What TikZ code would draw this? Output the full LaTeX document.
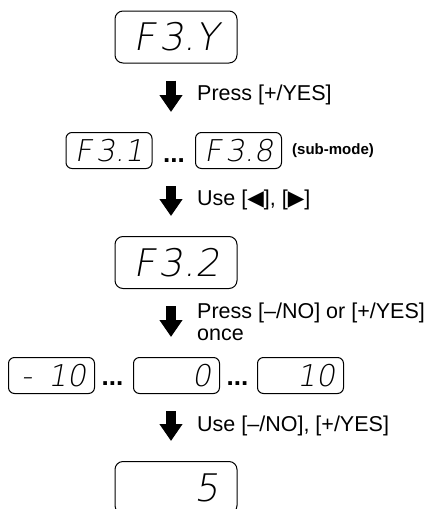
\documentclass[tikz,border=0pt]{standalone}
\usepackage{fontspec}
\setmainfont{Liberation Sans}
\newfontfamily\segfont{DejaVu Sans ExtraLight}[FakeSlant=0.18]
\newfontfamily\symfont{DejaVu Sans}
\usetikzlibrary{positioning,arrows.meta}

\begin{document}
\begin{tikzpicture}[x=1pt, y=-1pt,
  every node/.style={inner sep=0pt},
  bigdisp/.style={draw, line width=1pt, rounded corners=8pt, minimum height=52pt,
                  text width=86pt, inner xsep=18pt, align=right,
                  font=\segfont\fontsize{38}{38}\selectfont},
  smalldisp/.style={draw, line width=1pt, rounded corners=6pt, minimum height=36pt,
                  text width=69pt, inner xsep=8.5pt, align=right,
                  font=\segfont\fontsize{30}{30}\selectfont},
  dotsep/.style={font=\bfseries\fontsize{26}{26}\selectfont, anchor=base},
  hint/.style={anchor=base west, align=left, font=\fontsize{21.5}{22}\selectfont},
  fatarrow/.style={line width=10pt, -{Triangle[width=22pt,length=17pt]},
                   shorten <=17pt, shorten >=20pt}
]
\useasboundingbox (0,0) rectangle (432,509);
\coordinate (ax) at (171,0);

% displays
\node[bigdisp] (f3y) at (176,37) {F\kern4pt 3.Y};
\node[smalldisp] (f31) at (109,150.5) {F\kern4pt 3.1};
\node[dotsep] (dotsA) at (174,162) {...};
\node[smalldisp] (f38) at (238.5,150.5) {F\kern4pt 3.8};
\node[anchor=west, font=\bfseries\fontsize{15}{18}\selectfont] (submode) at (292,151) {(sub-mode)};
\node[bigdisp] (f32) at (176,262.5) {F\kern4pt 3.2};
\node[smalldisp] (vmin) at (51.5,375.5) {-\kern16pt 10};
\node[dotsep] (dotsB) at (112.5,385) {...};
\node[smalldisp] (vzero) at (176.5,375.5) {0};
\node[dotsep] (dotsC) at (237.5,385) {...};
\node[smalldisp] (vmax) at (300.5,375.5) {10};
\node[bigdisp] (vset) at (176,487.5) {5};

% key hints
\node[hint] (hintA) at (197,100) {Press [+/YES]};
\node[hint] (hintB) at (197,205) {Use [{\symfont ◀}], [{\symfont ▶}]};
\node[hint] (hintC) at (197,340) {Press [–/NO] or [+/YES]\\once};
\node[hint] (hintD) at (197,431) {Use [–/NO], [+/YES]};

% steps
\draw[fatarrow] (f3y.south -| ax) -- (f31.north -| ax);
\draw[fatarrow] (f31.south -| ax) -- (f32.north -| ax);
\draw[fatarrow] (f32.south -| ax) -- (vzero.north -| ax);
\draw[fatarrow] (vzero.south -| ax) -- (vset.north -| ax);
\end{tikzpicture}
\end{document}
